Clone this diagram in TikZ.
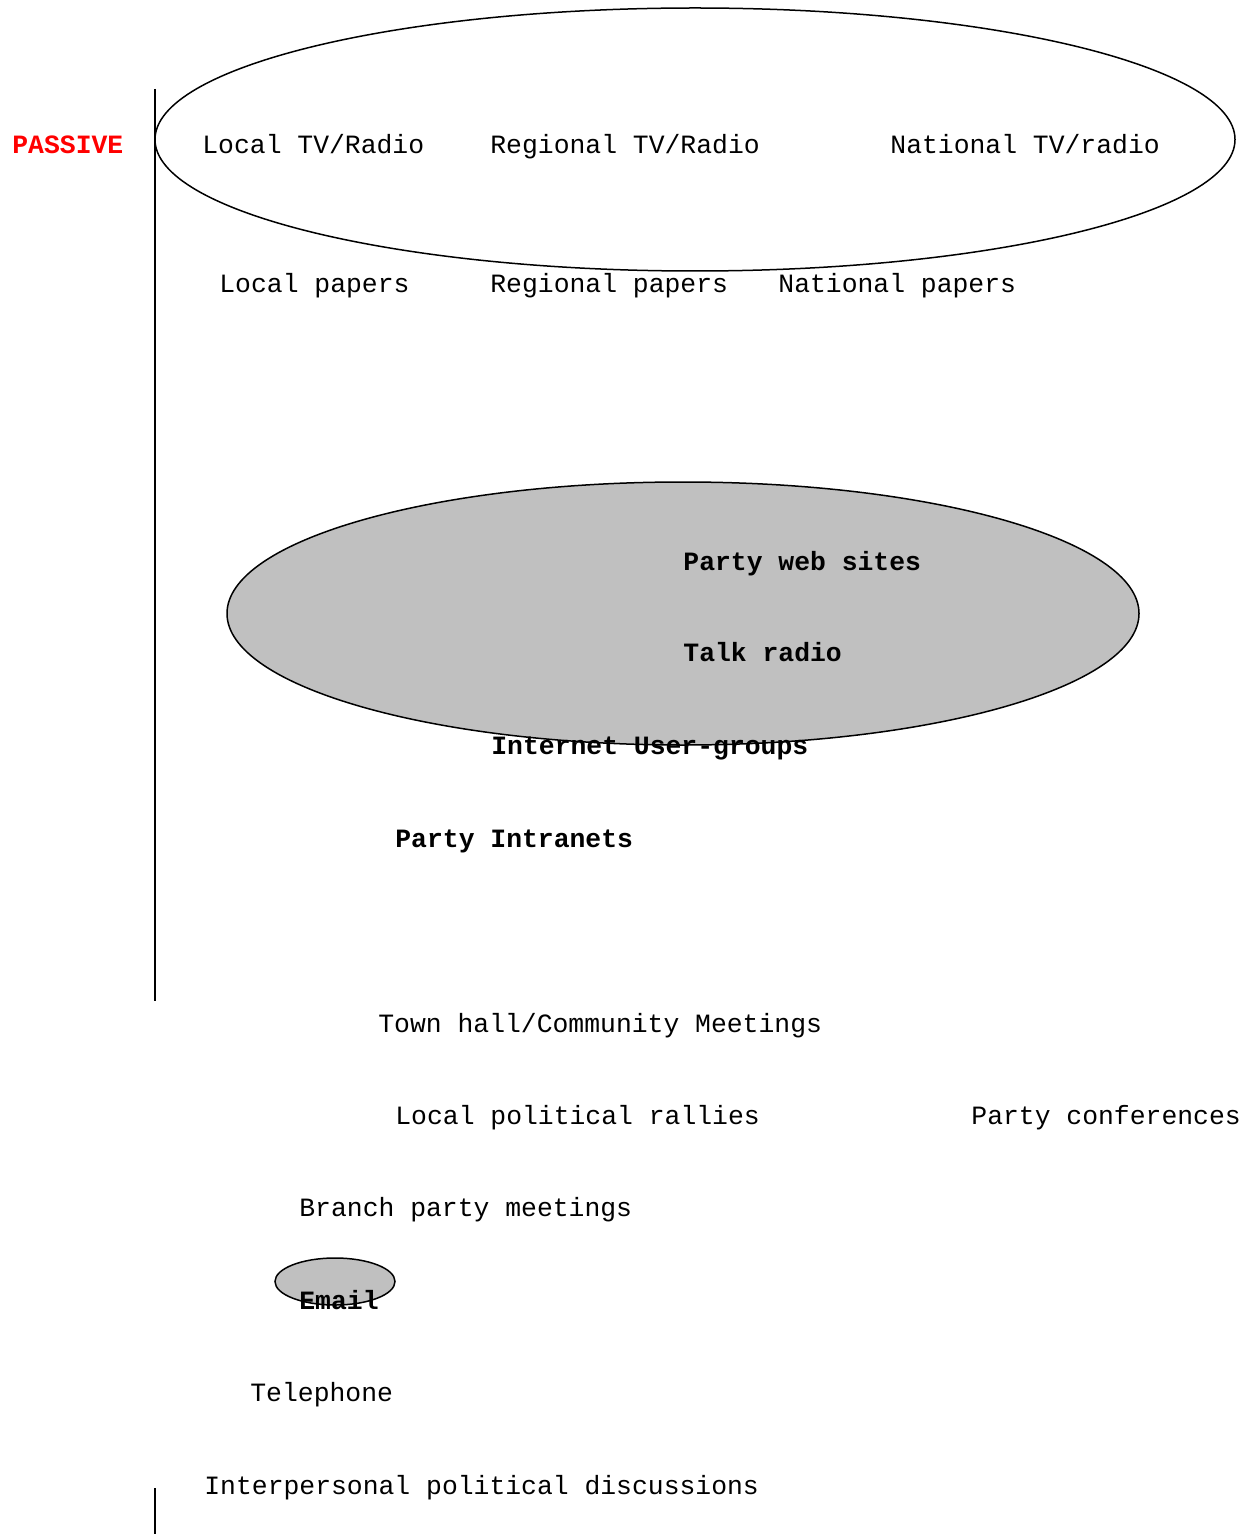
\documentclass[tikz,border=0pt]{standalone}
\usepackage{fontspec}
\newfontfamily\courfont{Liberation Mono}
\definecolor{silver}{RGB}{192,192,192}

\begin{document}
\begin{tikzpicture}[x=0.5pt,y=-0.5pt,
  every node/.style={anchor=base west,inner sep=0pt,font=\courfont\fontsize{13.2}{15}\selectfont},
  media/.style={},
  newmedia/.style={font=\courfont\bfseries\fontsize{13.2}{15}\selectfont},
  blob/.style={draw,line width=0.75pt,fill=silver}]
\useasboundingbox (0,0) rectangle (1251,1534);

% axis
\coordinate (axtop) at (155,89);
\coordinate (axmid) at (155,1001);
\coordinate (axlow) at (155,1488);
\coordinate (axend) at (155,1534);
\draw[line width=1pt] (axtop) -- (axmid);
\draw[line width=1pt] (axlow) -- (axend);
\node[text=red,font=\courfont\bfseries\fontsize{13.2}{15}\selectfont] (passive) at (12,154){PASSIVE};

% broadcast media
\begin{scope}
\coordinate (otv) at (695,139.5);
\draw[line width=0.75pt] (otv) ellipse (540 and 131.5);
\node[media] (localtv) at (202,154){Local TV/Radio};
\node[media] (regtv) at (490,154){Regional TV/Radio};
\node[media] (nattv) at (890,154){National TV/radio};
\end{scope}

% print media
\node[media] (localpap) at (219,293){Local papers};
\node[media] (regpap) at (490,293){Regional papers};
\node[media] (natpap) at (778,293){National papers};

% new media
\begin{scope}
\coordinate (onet) at (683,613.5);
\draw[blob] (onet) ellipse (456 and 131.5);
\node[newmedia] (websites) at (683,570){Party web sites};
\node[newmedia] (talkradio) at (683,661){Talk radio};
\node[newmedia] (usergroups) at (491,754){Internet User-groups};
\node[newmedia] (intranets) at (395,847){Party Intranets};
\end{scope}

% meetings
\node[media] (townhall) at (378,1032){Town hall/Community Meetings};
\node[media] (rallies) at (395,1124){Local political rallies};
\node[media] (conferences) at (971,1124){Party conferences};
\node[media] (branch) at (299,1216){Branch party meetings};

% personal
\begin{scope}
\coordinate (omail) at (335,1281.5);
\draw[blob] (omail) ellipse (60 and 23.5);
\node[newmedia] (email) at (299,1309){Email};
\end{scope}
\node[media] (phone) at (250,1401){Telephone};
\node[media] (talk) at (204,1494){Interpersonal political discussions};

\end{tikzpicture}
\end{document}
